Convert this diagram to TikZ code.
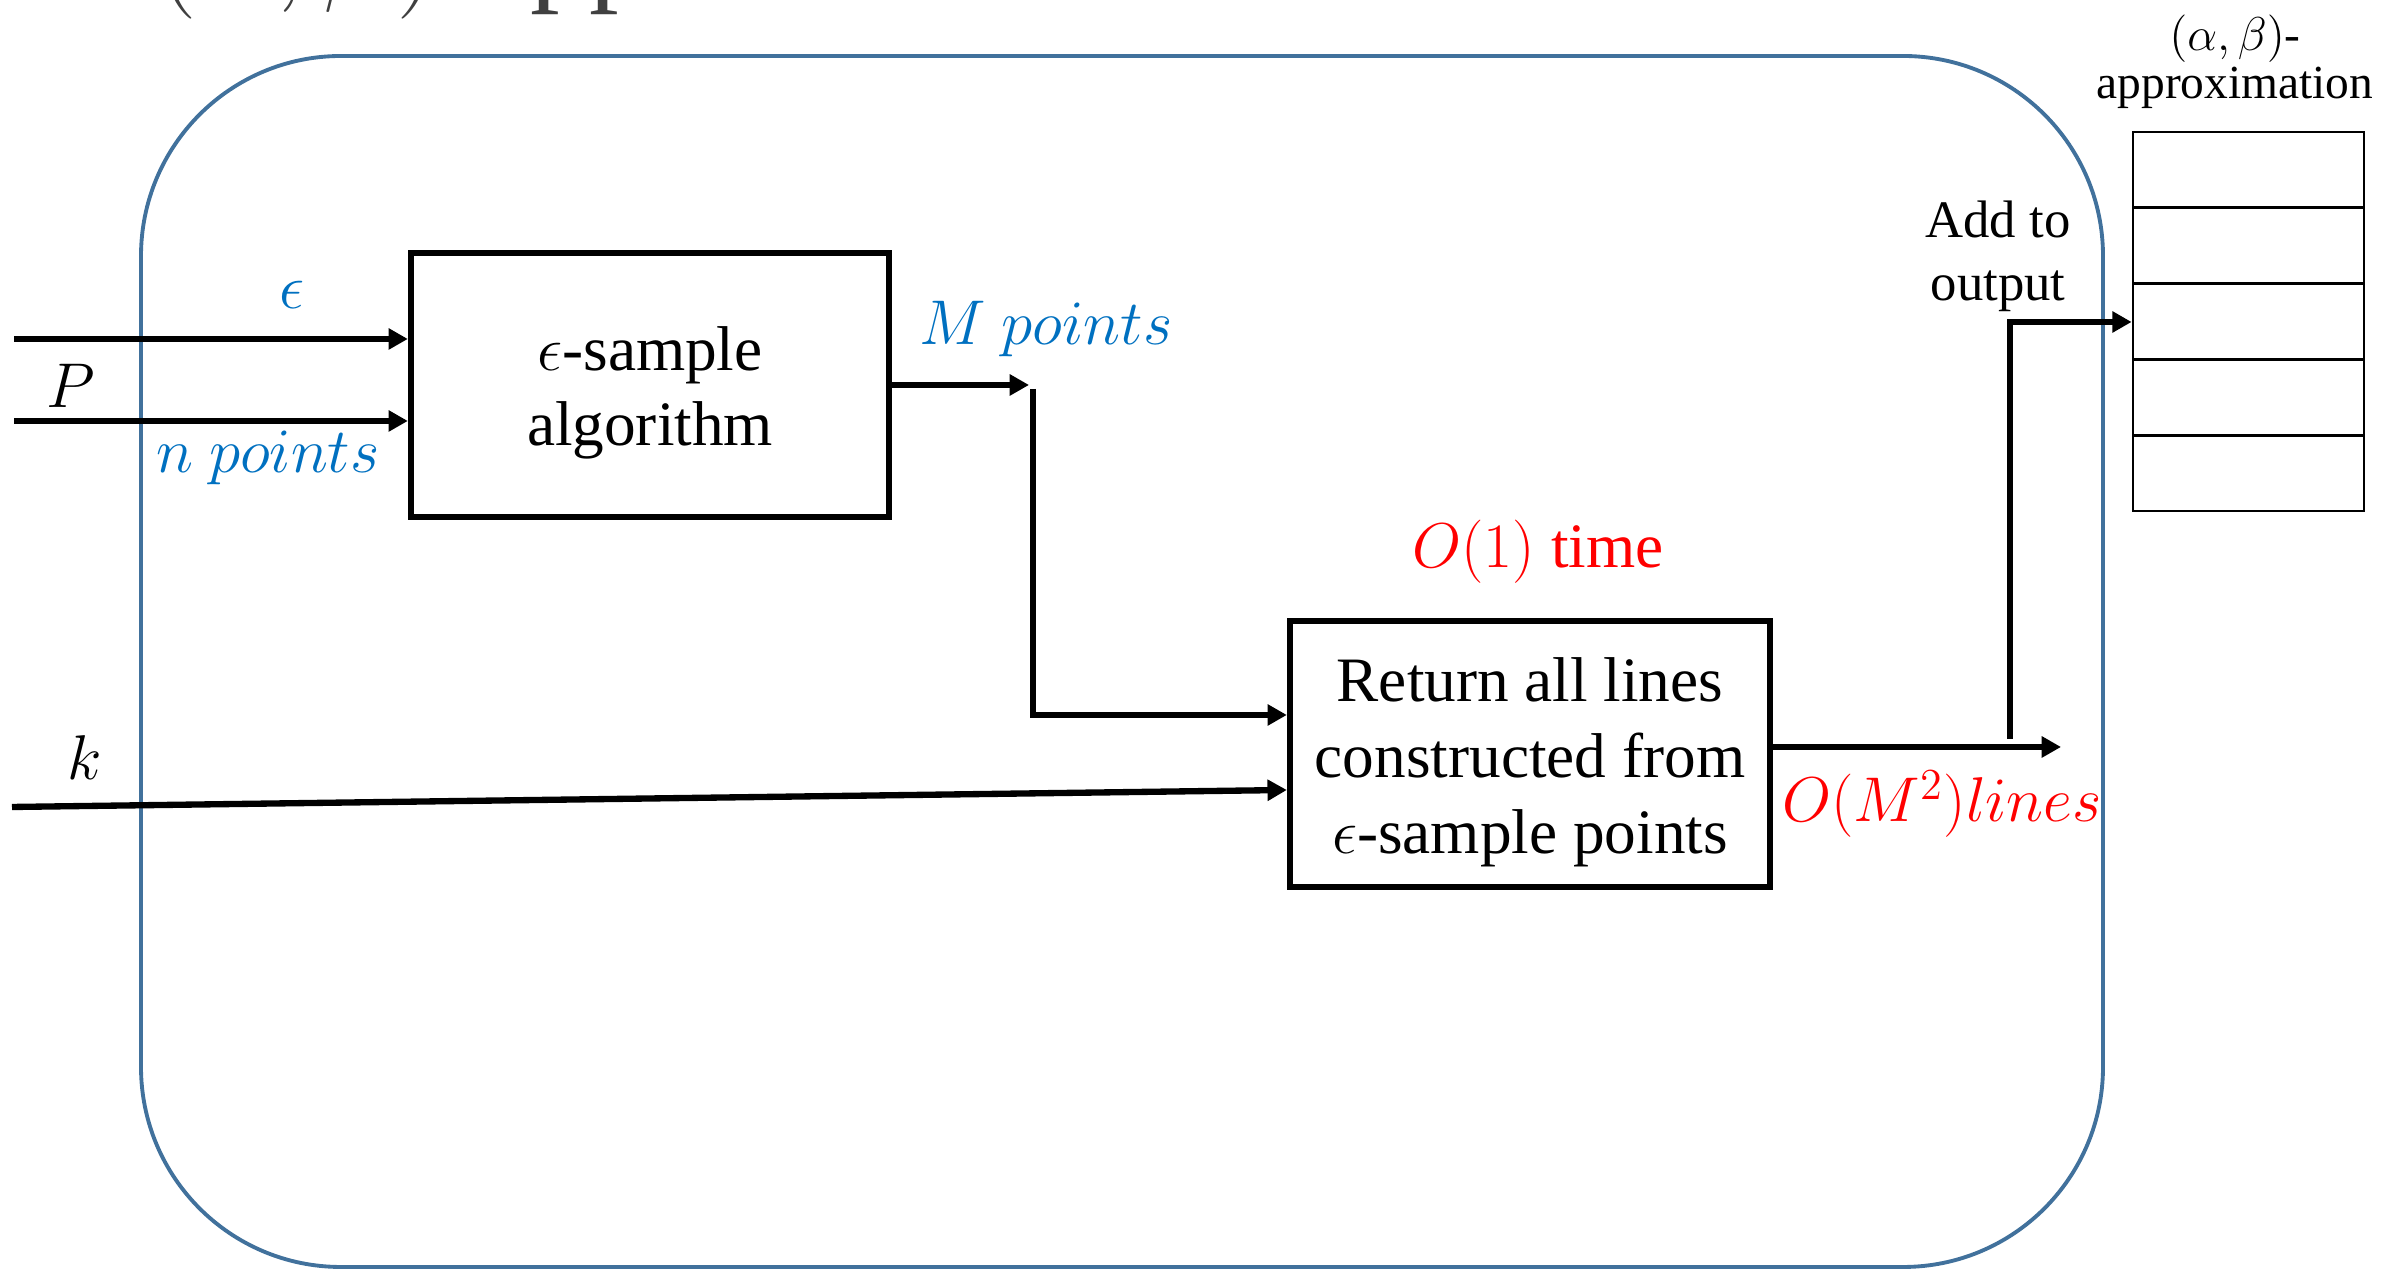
\RequirePackage{fix-cm}
\documentclass[tikz,border=0pt]{standalone}
\usepackage{amsmath}
\usepackage{fontspec}
\setmainfont{Liberation Serif}
\usepackage{tikz}
\usetikzlibrary{arrows.meta}
\definecolor{frameblue}{RGB}{65,113,156}
\definecolor{labelblue}{RGB}{0,112,192}
\definecolor{titlegray}{RGB}{64,64,64}

\begin{document}
\begin{tikzpicture}[
    procbox/.style={draw=black,line width=1.8pt,align=center,font=\fontsize{18}{21.6}\selectfont},
    flow/.style={line width=1.8pt,-{Triangle[length=5.5pt,width=5.8pt]}},
    slot/.style={draw=black,line width=0.8pt,minimum width=2.31cm,minimum height=0.758cm},
    bluetext/.style={text=labelblue,font=\fontsize{18}{21.6}\selectfont},
    redtext/.style={text=red,font=\fontsize{18}{21.6}\selectfont},
    plain/.style={font=\fontsize{18}{21.6}\selectfont}
  ]
  \useasboundingbox (0,0) rectangle (23.84,12.71);
  \clip (0,0) rectangle (23.84,12.71);

  \node[anchor=base west,inner sep=0pt,text=titlegray,font=\fontsize{33.7}{40}\selectfont] (title) at (1.55,12.81) {$(\alpha,\beta)$-approximation};

  \draw[frameblue,line width=1.1pt,rounded corners=2cm] (1.41,0.04) rectangle (21.03,12.15);

  \node[procbox,minimum width=4.78cm,minimum height=2.64cm] (sample) at (6.50,8.86) {\rule{0pt}{17pt}$\epsilon$-sample\\algorithm};
  \node[procbox,minimum width=4.80cm,minimum height=2.66cm] (lines) at (15.30,5.17) {\rule{0pt}{17pt}Return all lines\\constructed from\\$\epsilon$-sample points};

  \foreach \i in {1,...,5}
    {
    \node[slot] (slot\i) at (22.485,{11.769-0.758*\i}) { };
    }

  \coordinate (epsin) at (0.14,9.32);
  \coordinate (pin) at (0.14,8.50);
  \coordinate (kin) at (0.12,4.64);
  \coordinate (mtip) at (10.29,8.86);
  \coordinate (mtop) at (10.33,8.82);
  \coordinate (mbend) at (10.33,5.56);
  \coordinate (ltip) at (20.61,5.24);
  \coordinate (obot) at (20.10,5.32);
  \coordinate (obend) at (20.10,9.49);

  \draw[flow] (epsin) -- (epsin -| sample.west);
  \draw[flow] (pin) -- (pin -| sample.west);
  \draw[flow] (sample.east) -- (mtip);
  \draw[flow] (mtop) -- (mbend) -- (mbend -| lines.west);
  \draw[flow] (kin) -- ([yshift=-0.36cm]lines.west);
  \draw[flow] (ltip -| lines.east) -- (ltip);
  \draw[flow] (obot) -- (obend) -- (obend -| slot3.west);

  \node[bluetext] (epslbl) at (2.92,9.76) {$\epsilon$};
  \node[plain] (plbl) at (0.71,8.85) {$P$};
  \node[bluetext,anchor=base] (nlbl) at (2.68,7.98) {$n\ points$};
  \node[bluetext,anchor=base] (mlbl) at (10.46,9.26) {$M\ points$};
  \node[plain,anchor=base] (klbl) at (0.85,4.91) {$k$};
  \node[redtext,anchor=base] (timelbl) at (15.38,7.03) {$O(1)$ time};
  \node[redtext,anchor=base] (countlbl) at (19.42,4.49) {$O(M^2)lines$};
  \node[align=center,font=\fontsize{15}{18}\selectfont] (addlbl) at (19.98,10.145) {Add to\\output};
  \node[align=center,font=\fontsize{13.5}{13.7}\selectfont] (approxlbl) at (22.35,12.09) {$(\alpha,\beta)$-\\approximation};
\end{tikzpicture}
\end{document}
